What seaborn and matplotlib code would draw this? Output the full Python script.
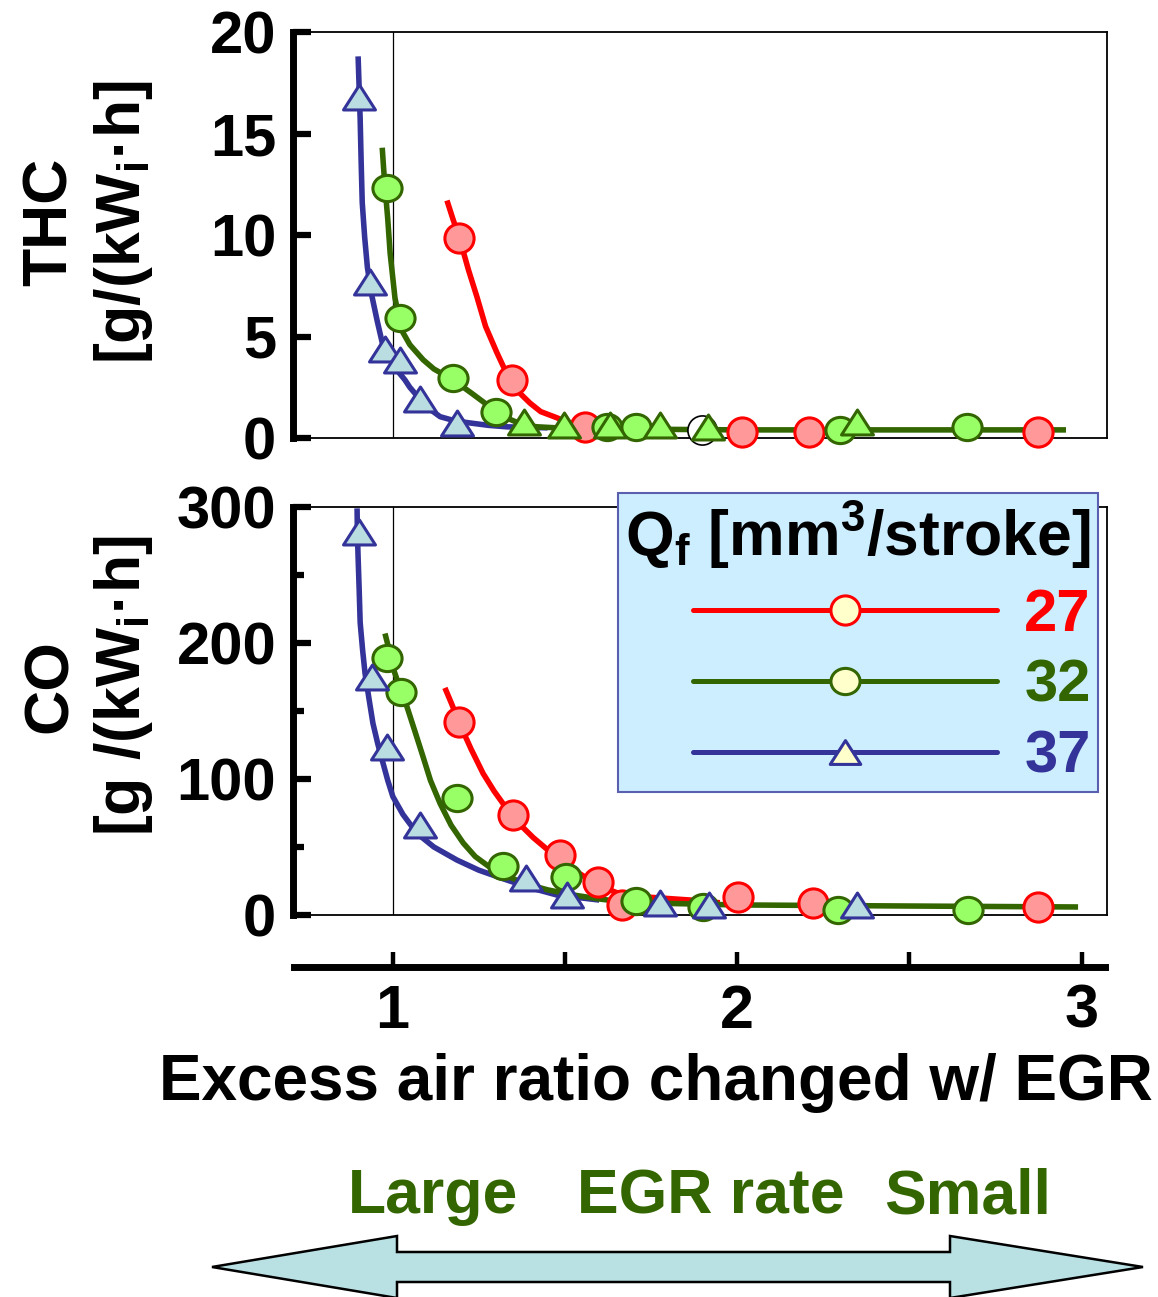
import numpy as np
import matplotlib
matplotlib.use("Agg")
import matplotlib.pyplot as plt
import seaborn as sns
from matplotlib.path import Path
from matplotlib.lines import Line2D
from matplotlib.patches import Polygon

# ---------------- data ----------------
# THC panel
thc_27_x = [1.193, 1.347, 1.559, 2.015, 2.209, 2.873]
thc_27_y = [9.85, 2.85, 0.55, 0.30, 0.30, 0.30]
thc_27_curve_x = [1.158, 1.175, 1.196, 1.220, 1.245, 1.270, 1.303, 1.325, 1.350, 1.370, 1.399, 1.430,
                  1.478, 1.510, 1.553, 1.650]
thc_27_curve_y = [11.7, 10.8, 9.75, 8.3, 6.95, 5.5, 4.2, 3.4, 2.7, 2.2, 1.72, 1.3,
                  0.99, 0.75, 0.55, 0.45]

thc_32_x = [0.984, 1.022, 1.176, 1.300, 1.623, 1.707, 2.299, 2.668]
thc_32_y = [12.3, 5.9, 2.95, 1.3, 0.55, 0.55, 0.4, 0.55]
thc_32_curve_x = [0.970, 0.974, 0.978, 0.986, 0.993, 1.000, 1.007, 1.018, 1.030, 1.050, 1.089, 1.120,
                  1.176, 1.230, 1.283, 1.330, 1.379, 1.420, 1.478, 1.600, 2.000, 2.500, 2.955]
thc_32_curve_y = [14.3, 13.3, 12.4, 10.8, 9.1, 8.0, 6.9, 6.0, 5.2, 4.6, 3.85, 3.4,
                  2.86, 2.2, 1.53, 1.0, 0.64, 0.55, 0.50, 0.45, 0.40, 0.40, 0.40]

thc_37_x = [0.903, 0.935, 0.978, 1.022, 1.080, 1.187]
thc_37_y = [16.8, 7.7, 4.4, 3.85, 1.9, 0.75]
thc_37_curve_x = [0.900, 0.906, 0.909, 0.912, 0.919, 0.927, 0.940, 0.955, 0.970, 0.993, 1.010, 1.036,
                  1.050, 1.080, 1.110, 1.138, 1.180, 1.225, 1.280, 1.332, 1.450]
thc_37_curve_y = [18.8, 15.7, 13.5, 11.6, 9.9, 8.4, 7.0, 5.8, 4.7, 4.0, 3.4, 2.86,
                  2.5, 1.9, 1.4, 1.05, 0.85, 0.74, 0.62, 0.55, 0.50]
# triangles drawn in green in the original
thc_37g_x = [1.381, 1.497, 1.631, 1.776, 1.915, 2.348]
thc_37g_y = [0.79, 0.64, 0.64, 0.64, 0.54, 0.79]
# stray open circle
thc_open_x = [1.898]
thc_open_y = [0.40]

# CO panel
co_27_x = [1.193, 1.350, 1.486, 1.596, 1.665, 2.003, 2.221, 2.873]
co_27_y = [142, 73.5, 44, 24.3, 7.4, 13.2, 8.8, 5.9]
co_27_curve_x = [1.152, 1.172, 1.194, 1.228, 1.263, 1.295, 1.329, 1.368, 1.408, 1.450, 1.495, 1.533,
                 1.573, 1.620, 1.668, 1.750, 1.864, 1.950]
co_27_curve_y = [167, 155, 141, 122, 104, 91, 79, 67, 57, 48, 40, 32,
                 25.7, 19.5, 14.7, 13.0, 11.0, 9.0]

co_32_x = [0.984, 1.025, 1.187, 1.321, 1.503, 1.707, 1.901, 2.293, 2.671]
co_32_y = [189, 164, 86, 36, 28, 10.3, 5.9, 3.7, 3.7]
co_32_curve_x = [0.978, 0.990, 1.001, 1.020, 1.042, 1.065, 1.089, 1.110, 1.138, 1.170, 1.205, 1.240,
                 1.283, 1.330, 1.379, 1.450, 1.525, 1.600, 1.668, 1.800, 2.000, 2.500, 2.990]
co_32_curve_y = [207, 195, 182, 168, 153, 135, 116, 99, 82, 66, 53, 43,
                 35, 29, 23.5, 18.5, 14.7, 11.8, 9.6, 8.5, 7.4, 6.6, 5.9]

co_37_x = [0.903, 0.940, 0.984, 1.080, 1.388, 1.506, 1.776, 1.919, 2.348]
co_37_y = [281.6, 175, 123.5, 66, 27, 14.7, 8.8, 7.4, 7.4]
co_37_curve_x = [0.897, 0.898, 0.900, 0.903, 0.906, 0.913, 0.920, 0.931, 0.943, 0.957, 0.972, 0.986,
                 1.001, 1.030, 1.071, 1.120, 1.187, 1.250, 1.332, 1.400, 1.477, 1.600]
co_37_curve_y = [299, 280, 263, 240, 215, 195, 178, 160, 141, 126, 112, 99,
                 87, 74, 60, 50, 40.4, 33, 25.7, 20, 14.7, 11.0]

series_labels = ["27", "32", "37"]
thc_ticks = [0, 5, 10, 15, 20]
co_ticks = [0, 100, 200, 300]
co_minor = [50, 150, 250]
x_ticks = [1, 1.5, 2, 2.5, 3]
x_ticklabels = ["1", "", "2", "", "3"]

# ---------------- style ----------------
sns.set_style("white")
plt.rcParams["font.family"] = ["Liberation Sans", "DejaVu Sans"]
plt.rcParams["font.weight"] = "bold"
plt.rcParams["mathtext.fontset"] = "custom"
plt.rcParams["mathtext.rm"] = "Liberation Sans:bold"
plt.rcParams["mathtext.it"] = "Liberation Sans:bold"
plt.rcParams["mathtext.bf"] = "Liberation Sans:bold"
for k in ["text.color", "axes.labelcolor", "xtick.color", "ytick.color", "axes.edgecolor"]:
    plt.rcParams[k] = "black"

RED, GREEN, BLUE = "#ff0000", "#336600", "#333399"
RED_F, GREEN_F, BLUE_F = "#ff9999", "#99ff66", "#b9dde1"
LEG_F = "#ffffcc"

circ = Path.unit_circle()
ell = Path(circ.vertices * np.array([1.0, 0.9]), circ.codes)
tri = Path([(0, 0.78), (-1, -0.78), (1, -0.78), (0, 0.78)],
           [Path.MOVETO, Path.LINETO, Path.LINETO, Path.CLOSEPOLY])

W, H = 1158, 1297
fig = plt.figure(figsize=(W / 100, H / 100), dpi=100)
fig.patch.set_facecolor("white")


def fx(p):
    return p / W


def fy(p):
    return 1 - p / H


L, R = 293, 1107
XLIM = (0.711, 3.074)
ax1 = fig.add_axes([fx(L), fy(438), fx(R) - fx(L), fy(32) - fy(438)])
ax2 = fig.add_axes([fx(L), fy(915), fx(R) - fx(L), fy(507) - fy(915)])
axx = fig.add_axes([fx(L), fy(967), fx(R) - fx(L), 0.01])

for ax in (ax1, ax2):
    ax.set_xlim(XLIM)
    ax.set_xticks([])
    ax.grid(False)
    for s in ["top", "right", "bottom"]:
        ax.spines[s].set_linewidth(1.3)
        ax.spines[s].set_color("black")
    ax.spines["left"].set_linewidth(5)
    ax.spines["left"].set_color("black")
    ax.tick_params(axis="y", which="major", direction="in", length=13, width=4.5,
                   labelsize=43, pad=12, left=True, colors="black")
    ax.tick_params(axis="y", which="minor", direction="in", length=8, width=4.5, left=True)
    ax.axvline(1.0, color="black", lw=0.9, zorder=1)

ax1.set_ylim(0, 20)
ax1.set_yticks(thc_ticks)
ax2.set_ylim(0, 300)
ax2.set_yticks(co_ticks)
ax2.set_yticks(co_minor, minor=True)


def curve(ax, x, y, c):
    sns.lineplot(x=x, y=y, ax=ax, color=c, linewidth=4.0, sort=False,
                 estimator=None, legend=False, zorder=2.6,
                 solid_joinstyle="round", solid_capstyle="butt")


def pts(ax, x, y, marker, face, edge, s):
    sns.scatterplot(x=x, y=y, ax=ax, marker=marker, s=s, color=face,
                    edgecolor=edge, linewidth=2.2, zorder=3, clip_on=False, legend=False)


# THC
curve(ax1, thc_37_curve_x, thc_37_curve_y, BLUE)
curve(ax1, thc_27_curve_x, thc_27_curve_y, RED)
curve(ax1, thc_32_curve_x, thc_32_curve_y, GREEN)
pts(ax1, thc_27_x, thc_27_y, circ, RED_F, RED, 441)
pts(ax1, thc_37_x, thc_37_y, tri, BLUE_F, BLUE, 530)
pts(ax1, thc_32_x, thc_32_y, ell, GREEN_F, GREEN, 441)
pts(ax1, thc_37g_x, thc_37g_y, tri, GREEN_F, GREEN, 530)
sns.scatterplot(x=thc_open_x, y=thc_open_y, ax=ax1, marker=circ, s=441, color="white",
                edgecolor="black", linewidth=1.2, zorder=2.9, clip_on=False, legend=False)

# CO
curve(ax2, co_37_curve_x, co_37_curve_y, BLUE)
curve(ax2, co_27_curve_x, co_27_curve_y, RED)
curve(ax2, co_32_curve_x, co_32_curve_y, GREEN)
pts(ax2, co_27_x, co_27_y, circ, RED_F, RED, 441)
pts(ax2, co_32_x, co_32_y, ell, GREEN_F, GREEN, 441)
pts(ax2, co_37_x, co_37_y, tri, BLUE_F, BLUE, 530)

# y labels
ax1.set_ylabel("THC\n[g/(kW$_\\mathregular{i}$·h]", fontsize=45, fontweight="bold", linespacing=1.25)
ax1.yaxis.set_label_coords(fx(88), fy(222), transform=fig.transFigure)
ax1.yaxis.label.set(ha="center", va="center", rotation_mode="default")
ax2.set_ylabel("CO\n[g /(kW$_\\mathregular{i}$·h]", fontsize=45, fontweight="bold", linespacing=1.25)
ax2.yaxis.set_label_coords(fx(88), fy(686), transform=fig.transFigure)
ax2.yaxis.label.set(ha="center", va="center", rotation_mode="default")

# bottom x axis
axx.set_xlim(XLIM)
axx.patch.set_visible(False)
axx.set_yticks([])
for s in ["top", "right", "left"]:
    axx.spines[s].set_visible(False)
axx.spines["bottom"].set_linewidth(5)
axx.spines["bottom"].set_bounds(0.714, 3.068)
axx.set_xticks(x_ticks)
axx.set_xticklabels(x_ticklabels)
axx.tick_params(axis="x", direction="in", length=11, width=3.2, labelsize=44, pad=12,
                bottom=True, colors="black")
axx.set_xlabel("Excess air ratio changed w/ EGR", fontsize=46, fontweight="bold")
axx.xaxis.set_label_coords(fx(656), fy(1100), transform=fig.transFigure)
axx.xaxis.label.set(ha="center", va="baseline")

# legend
handles = [
    Line2D([], [], color=RED, lw=3.6, marker=circ, ms=21, mfc=LEG_F, mec=RED, mew=2.2),
    Line2D([], [], color=GREEN, lw=3.6, marker=ell, ms=21, mfc=LEG_F, mec=GREEN, mew=2.2),
    Line2D([], [], color=BLUE, lw=3.6, marker=tri, ms=22, mfc=LEG_F, mec=BLUE, mew=2.2),
]
leg = ax2.legend(handles=handles, labels=series_labels, loc="upper right",
                 bbox_to_anchor=(fx(1098), fy(493)), bbox_transform=fig.transFigure,
                 borderaxespad=0, title="Q$_\\mathregular{f}$ [mm$^\\mathregular{3}$/stroke]",
                 title_fontproperties={"weight": "bold", "size": 45},
                 prop={"weight": "bold", "size": 43}, labelcolor=[RED, GREEN, BLUE],
                 frameon=True, fancybox=False, framealpha=1, facecolor="#cceeff",
                 edgecolor="#5a5fb0", handlelength=5.1, handletextpad=0.45,
                 labelspacing=0.27, borderpad=0.12, alignment="right", numpoints=1)
leg.get_frame().set_linewidth(1.5)
leg.set_zorder(5)

# EGR rate annotation
for txt, cx in [("Large", 433), ("EGR rate", 711), ("Small", 968)]:
    fig.text(fx(cx), fy(1213), txt, ha="center", va="baseline", color=GREEN,
             fontsize=45, fontweight="bold")

arrow_px = [(212, 1267), (397, 1236), (397, 1252), (950, 1252), (950, 1236),
            (1143, 1267), (950, 1298), (950, 1282), (397, 1282), (397, 1298)]
fig.patches.append(Polygon([(fx(a), fy(b)) for a, b in arrow_px], closed=True,
                           transform=fig.transFigure, facecolor="#b9e0e3",
                           edgecolor="black", linewidth=1.8, joinstyle="miter"))

fig.savefig("out.png", dpi=100, facecolor="white")
